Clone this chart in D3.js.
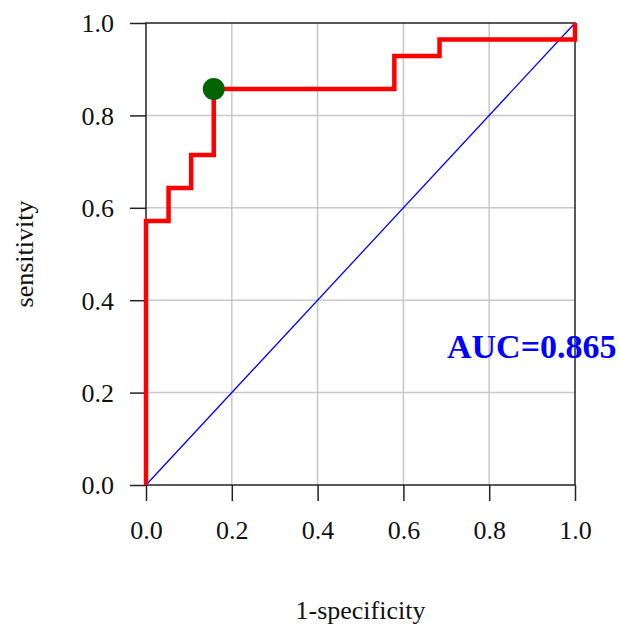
<!DOCTYPE html>
<html>
<head>
<meta charset="utf-8">
<script src="https://cdn.jsdelivr.net/npm/d3@7"></script>
<style>
  html, body { margin: 0; padding: 0; background: #fff; }
  svg { display: block; }
</style>
</head>
<body>
<svg id="chart" width="619" height="627"></svg>
<script>
// ROC curve: false-positive rate (1-specificity) vs true-positive rate
const fpr = [0, 0, 0.0526, 0.0526, 0.1053, 0.1053, 0.1579, 0.1579, 0.5789, 0.5789, 0.6842, 0.6842, 1, 1];
const tpr = [0, 0.5714, 0.5714, 0.6429, 0.6429, 0.7143, 0.7143, 0.8571, 0.8571, 0.9286, 0.9286, 0.9643, 0.9643, 1];
// best cut-off point
const cutoff = [0.1579, 0.8571];
const aucValue = 0.865;
const tickValues = [0, 0.2, 0.4, 0.6, 0.8, 1.0];
const gridValues = [0.2, 0.4, 0.6, 0.8];

const svg = d3.select("#chart");
const font = "'Liberation Serif', 'Times New Roman', serif";
const x = d3.scaleLinear().domain([0, 1]).range([146, 575]);
const y = d3.scaleLinear().domain([0, 1]).range([485, 23]);

// grid
const grid = svg.append("g").attr("stroke", "#c8c8c8").attr("stroke-width", 1.5);
grid.selectAll("line.v").data(gridValues).join("line")
  .attr("x1", d => x(d)).attr("x2", d => x(d)).attr("y1", y(0)).attr("y2", y(1));
grid.selectAll("line.h").data(gridValues).join("line").attr("class", "h")
  .attr("x1", x(0)).attr("x2", x(1)).attr("y1", d => y(d)).attr("y2", d => y(d));

// frame
svg.append("rect")
  .attr("x", x(0)).attr("y", y(1))
  .attr("width", x(1) - x(0)).attr("height", y(0) - y(1))
  .attr("fill", "none").attr("stroke", "#222").attr("stroke-width", 1.5);

// axes
const xAxis = d3.axisBottom(x).tickValues(tickValues).tickFormat(d3.format(".1f"))
  .tickSize(16).tickPadding(20);
const yAxis = d3.axisLeft(y).tickValues(tickValues).tickFormat(d3.format(".1f"))
  .tickSize(16).tickPadding(16);

const gx = svg.append("g").attr("transform", `translate(0,${y(0)})`).call(xAxis);
const gy = svg.append("g").attr("transform", `translate(${x(0)},0)`).call(yAxis);
[gx, gy].forEach(g => {
  g.select(".domain").remove();
  g.selectAll(".tick line").attr("stroke", "#222").attr("stroke-width", 1.5);
  g.selectAll(".tick text").attr("fill", "#111")
    .style("font-family", font).style("font-size", "26px");
});
gy.selectAll(".tick text").attr("dy", "0.34em");

// chance diagonal
svg.append("line")
  .attr("x1", x(0)).attr("y1", y(0)).attr("x2", x(1)).attr("y2", y(1))
  .attr("stroke", "#0000ff").attr("stroke-width", 1.3);

// ROC step curve
const pts = fpr.map((v, i) => [v, tpr[i]]);
svg.append("path")
  .datum(pts)
  .attr("fill", "none")
  .attr("stroke", "#ff0000")
  .attr("stroke-width", 4.5)
  .attr("stroke-linejoin", "miter")
  .attr("d", d3.line().x(d => x(d[0])).y(d => y(d[1])));

// cut-off marker
svg.append("circle")
  .attr("cx", x(cutoff[0])).attr("cy", y(cutoff[1])).attr("r", 11)
  .attr("fill", "#006400");

// AUC label
svg.append("text")
  .attr("x", 447).attr("y", 358)
  .attr("fill", "#0000ff")
  .style("font-family", font).style("font-weight", "bold").style("font-size", "34px")
  .text(`AUC=${aucValue.toFixed(3)}`);

// axis titles
svg.append("text")
  .attr("x", x(0.5)).attr("y", 619)
  .attr("text-anchor", "middle").attr("fill", "#111")
  .style("font-family", font).style("font-size", "26px")
  .text("1-specificity");

svg.append("text")
  .attr("transform", `translate(33,${(y(0) + y(1)) / 2}) rotate(-90)`)
  .attr("text-anchor", "middle").attr("fill", "#111")
  .style("font-family", font).style("font-size", "26px")
  .text("sensitivity");
</script>
</body>
</html>
